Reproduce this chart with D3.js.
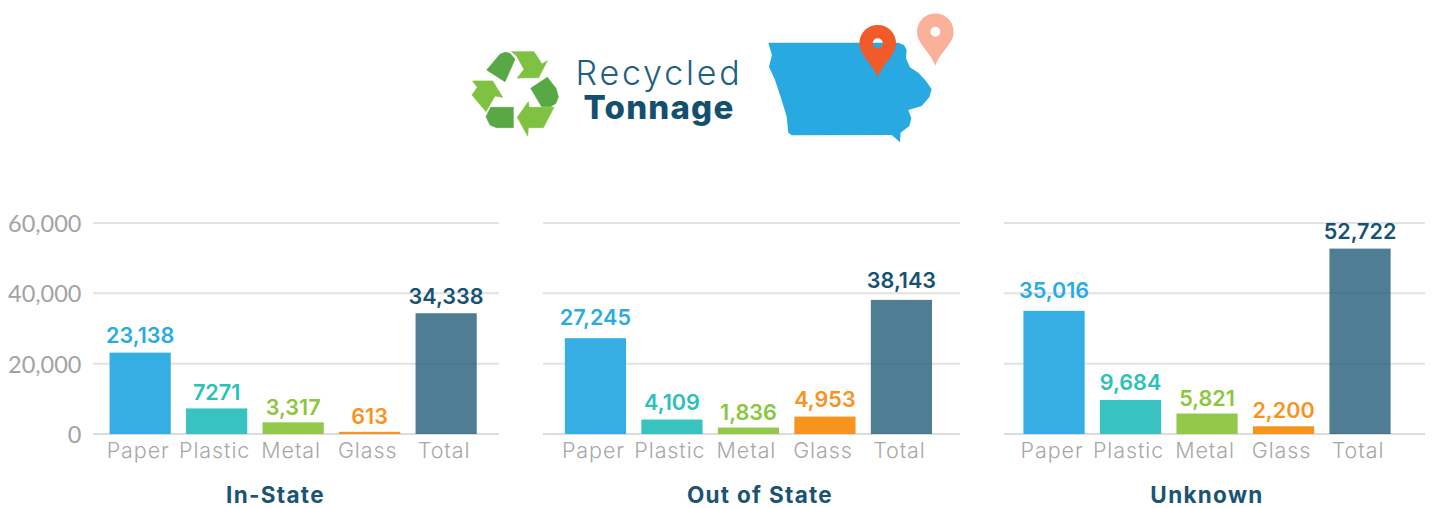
<!DOCTYPE html>
<html><head><meta charset="utf-8">
<script src="https://cdnjs.cloudflare.com/ajax/libs/d3/7.8.5/d3.min.js"></script>
<style>html,body{margin:0;background:#fff}svg{display:block}text{font-family:Inter,Lato,sans-serif}</style>
</head><body><svg id="c" width="1433" height="508"></svg>
<script>
const categories = ["Paper","Plastic","Metal","Glass","Total"];
const panelNames = ["In-State","Out of State","Unknown"];
const inState = [23138,7271,3317,613,34338];
const outOfState = [27245,4109,1836,4953,38143];
const unknown = [35016,9684,5821,2200,52722];
const inStateLabels = ["23,138","7271","3,317","613","34,338"];
const outOfStateLabels = ["27,245","4,109","1,836","4,953","38,143"];
const unknownLabels = ["35,016","9,684","5,821","2,200","52,722"];
const yTicks = [0,20000,40000,60000];
const barColors = ["#35aee3","#39c3c0","#93c94a","#f7941e","#1d5875"];
const labelColors = ["#2cabe3","#2cc0b9","#8cc63f","#f7931e","#175272"];

const svg = d3.select("#c");
const y = d3.scaleLinear().domain([0,60000]).range([434,223]);
const panels = [
 {name:panelNames[0],vals:inState,labs:inStateLabels,g:[93,499],b:[101.9,484.4],tx:275.5,gap:[9.5,8.5,7.5,7.5,9.5],axis:true},
 {name:panelNames[1],vals:outOfState,labs:outOfStateLabels,g:[543,960],b:[557.2,939.7],tx:760,gap:[13.5,9.5,7.5,9.5,11.5]},
 {name:panelNames[2],vals:unknown,labs:unknownLabels,g:[1004,1425],b:[1015.8,1398.3],tx:1207,gap:[12.5,9.5,7.5,8.5,9.5]}
];
panels.forEach(p=>{
  const x = d3.scaleBand().domain(categories).range(p.b).paddingInner(.2).paddingOuter(.1);
  const g = svg.append("g");
  g.selectAll("line.grid").data(yTicks).join("line").attr("class","grid")
    .attr("x1",p.g[0]).attr("x2",p.g[1]).attr("y1",d=>y(d)).attr("y2",d=>y(d))
    .attr("stroke",d=>d===0?"#dcdcdc":"#e2e2e2").attr("stroke-width",2);
  if(p.axis){
    const ax = d3.axisLeft(y).tickValues(yTicks).tickFormat(d3.format(",")).tickSize(0).tickPadding(0);
    const a = svg.append("g").attr("transform","translate(81.5,0)").call(ax);
    a.select(".domain").remove();
    a.selectAll("text").attr("font-size",23.5).attr("fill","#a3a3a3").style("font-family","Lato,sans-serif").attr("dy","0.36em");
  }
  g.selectAll("rect").data(p.vals).join("rect")
    .attr("x",(d,i)=>x(categories[i])).attr("width",x.bandwidth())
    .attr("y",d=>y(d)).attr("height",d=>y(0)-y(d))
    .attr("fill",(d,i)=>barColors[i]).attr("fill-opacity",(d,i)=>i===4?0.78:1);
  g.selectAll("text.val").data(p.vals).join("text").attr("class","val")
    .attr("x",(d,i)=>x(categories[i])+x.bandwidth()/2).attr("y",(d,i)=>y(d)-p.gap[i])
    .attr("text-anchor","middle").attr("font-size",21.6).attr("font-weight",600)
    .attr("fill",(d,i)=>labelColors[i]).text((d,i)=>p.labs[i]);
  g.selectAll("text.cat").data(categories).join("text").attr("class","cat")
    .attr("x",d=>x(d)+x.bandwidth()/2-2).attr("y",458)
    .attr("text-anchor","middle").attr("font-size",21.5).attr("font-weight",300).attr("letter-spacing",0.9)
    .attr("fill","#a8a8a8").text(d=>d);
  g.append("text").attr("x",p.tx).attr("y",503)
    .attr("text-anchor","middle").attr("font-size",22.5).attr("font-weight",700).attr("letter-spacing",1.3)
    .attr("fill","#1a5472").text(p.name);
});

// header artwork
const line = d3.line();
const recycle = svg.append("g").attr("transform","translate(460,0) scale(.3333)");
[
 ["#58a945",[[80,210],[120,163],[135,157],[150,160],[165,178],[135,245]]],
 ["#7fc241",[[155,155],[222,155],[246,192],[262,182],[236,233],[172,234],[192,208],[170,168]]],
 ["#58a945",[[212,265],[262,232],[288,265],[295,290],[288,310],[272,320],[245,320]]],
 ["#7fc241",[[282,322],[250,383],[205,383],[203,408],[172,352],[205,305],[207,322]]],
 ["#58a945",[[160,322],[160,383],[110,383],[90,375],[78,350],[92,322]]],
 ["#7fc241",[[38,243],[98,243],[128,292],[105,288],[78,335],[36,285],[52,262]]]
].forEach(([c,pts])=>recycle.append("path").attr("d",line(pts)+"Z").attr("fill",c).attr("stroke",c).attr("stroke-width",2).attr("stroke-linejoin","round"));

svg.append("text").attr("x",659).attr("y",85).attr("text-anchor","middle")
  .attr("font-size",34).attr("font-weight",300).attr("fill","#1f5f80").attr("letter-spacing",2.8).text("Recycled");
svg.append("text").attr("x",659).attr("y",119).attr("text-anchor","middle")
  .attr("font-size",33).attr("font-weight",800).attr("fill","#144f70").attr("letter-spacing",1.2).text("Tonnage");

const iowa = [[55,128],[445,128],[462,135],[470,150],[468,175],[480,202],[505,218],[528,243],[545,268],[538,292],[515,318],[475,330],[484,355],[478,378],[452,398],[450,427],[425,405],[125,406],[115,398],[110,350],[95,300],[75,240],[57,200],[66,165]];
svg.append("g").attr("transform","translate(750,0) scale(.3333)")
  .append("path").attr("d",line(iowa)+"Z").attr("fill","#29a9e1");

function pin(cx,cy,r,tip,fill){
  const s = d3.path();
  s.moveTo(cx,tip);
  s.bezierCurveTo(cx-5,tip-14,cx-r,cy+12,cx-r,cy);
  s.arc(cx,cy,r,Math.PI,0);
  s.bezierCurveTo(cx+r,cy+12,cx+5,tip-14,cx,tip);
  s.closePath();
  s.moveTo(cx+5,cy);
  s.arc(cx,cy,5,0,Math.PI*2);
  svg.append("path").attr("d",s.toString()).attr("fill",fill).attr("fill-rule","evenodd");
}
pin(877.7,43.3,18.3,77.7,"#f15a29");
pin(935.3,31.7,18.3,65.7,"#fbb09a");
</script></body></html>
